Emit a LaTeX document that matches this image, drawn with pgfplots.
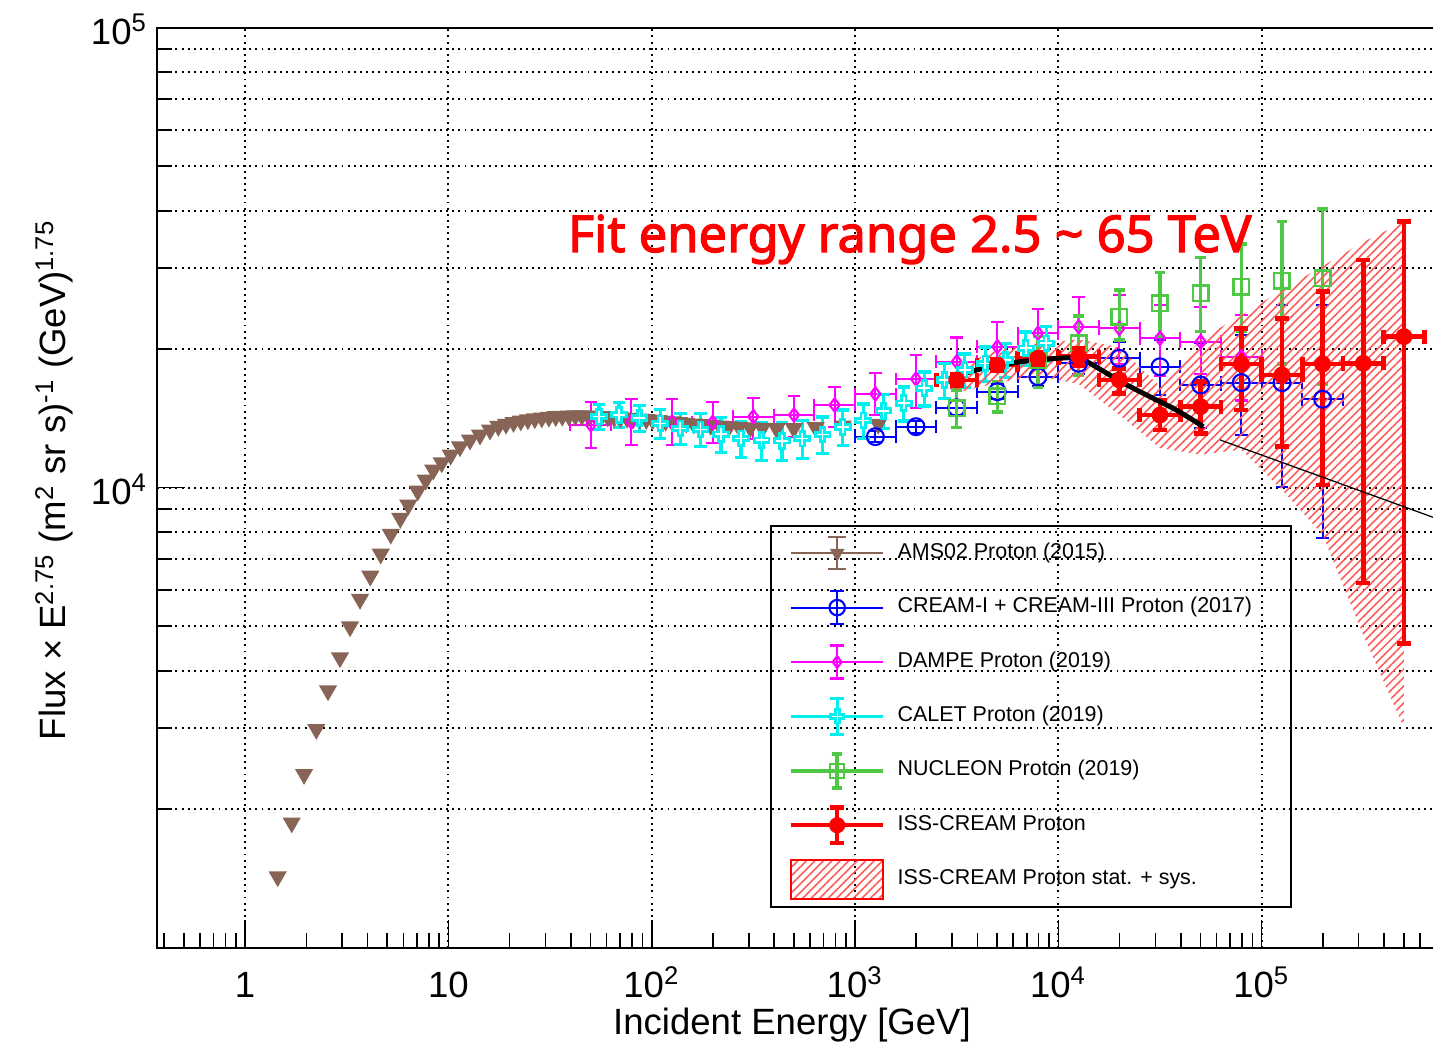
\documentclass[border=0pt]{standalone}
\usepackage{fontspec}
\setmainfont{Liberation Sans}
\newfontfamily\titlefont{Noto Sans}[AutoFakeBold=2.5]
\usepackage{pgfplots}
\pgfplotsset{compat=1.18}
\usetikzlibrary{patterns.meta}

\definecolor{amsbrown}{RGB}{135,100,85}
\definecolor{nucgreen}{RGB}{80,200,70}
\definecolor{calcyan}{RGB}{0,240,240}
\definecolor{bandred}{RGB}{255,90,90}
\definecolor{dmag}{RGB}{255,0,255}
\definecolor{dblue}{RGB}{0,0,255}
\definecolor{dred}{RGB}{255,0,0}

\pgfdeclareplotmark{ocross}{%
 \pgfpathmoveto{\pgfqpoint{-0.3\pgfplotmarksize}{\pgfplotmarksize}}%
 \pgfpathlineto{\pgfqpoint{0.3\pgfplotmarksize}{\pgfplotmarksize}}%
 \pgfpathlineto{\pgfqpoint{0.3\pgfplotmarksize}{0.3\pgfplotmarksize}}%
 \pgfpathlineto{\pgfqpoint{\pgfplotmarksize}{0.3\pgfplotmarksize}}%
 \pgfpathlineto{\pgfqpoint{\pgfplotmarksize}{-0.3\pgfplotmarksize}}%
 \pgfpathlineto{\pgfqpoint{0.3\pgfplotmarksize}{-0.3\pgfplotmarksize}}%
 \pgfpathlineto{\pgfqpoint{0.3\pgfplotmarksize}{-\pgfplotmarksize}}%
 \pgfpathlineto{\pgfqpoint{-0.3\pgfplotmarksize}{-\pgfplotmarksize}}%
 \pgfpathlineto{\pgfqpoint{-0.3\pgfplotmarksize}{-0.3\pgfplotmarksize}}%
 \pgfpathlineto{\pgfqpoint{-\pgfplotmarksize}{-0.3\pgfplotmarksize}}%
 \pgfpathlineto{\pgfqpoint{-\pgfplotmarksize}{0.3\pgfplotmarksize}}%
 \pgfpathlineto{\pgfqpoint{-0.3\pgfplotmarksize}{0.3\pgfplotmarksize}}%
 \pgfpathclose\pgfusepathqfillstroke}

\begin{document}
\begin{tikzpicture}
\begin{axis}[
 at={(0,0)}, anchor=south west, scale only axis,
 width=12.8cm, height=9.2cm,
 xmode=log, ymode=log,
 xmin=0.3686, xmax=7.29e5, ymin=1000, ymax=1e5,
 xtick={1,10,100,1000,10000,100000},
 xticklabels={1,10,10\textsuperscript{2},10\textsuperscript{3},10\textsuperscript{4},10\textsuperscript{5}},
 minor xtick={0.4,0.5,0.6,0.7,0.8,0.9,2,3,4,5,6,7,8,9,20,30,40,50,60,70,80,90,200,300,400,500,600,700,800,900,2000,3000,4000,5000,6000,7000,8000,9000,20000,30000,40000,50000,60000,70000,80000,90000,200000,300000,400000,500000,600000,700000},
 ytick={10000,100000},
 yticklabels={10\textsuperscript{4},10\textsuperscript{5}},
 minor ytick={2000,3000,4000,5000,6000,7000,8000,9000,20000,30000,40000,50000,60000,70000,80000,90000},
 tick pos=left, tick align=inside,
 major tick length=0.28cm, minor tick length=0.15cm,
 xmajorgrids, ymajorgrids, yminorgrids,
 grid style={black, line width=0.55pt, dash pattern=on 0.55pt off 1.2pt},
 axis line style={line width=0.6pt},
 every tick/.style={black, line width=0.45pt},
 tick label style={font=\fontsize{10.4}{12}\selectfont},
 xticklabel style={anchor=base, yshift=-0.50cm},
 yticklabel style={anchor=base east, xshift=0.03cm, yshift=-0.17cm},
 xlabel={Incident Energy [GeV]},
 ylabel={Flux × E\textsuperscript{2.75} (m\textsuperscript{2} sr s)\textsuperscript{-1} (GeV)\textsuperscript{1.75}},
 every axis x label/.style={at={(axis description cs:0.4961,0)}, anchor=base, yshift=-0.873cm, font=\fontsize{10.4}{12}\selectfont},
 every axis y label/.style={at={(axis description cs:-0.0711,0.5084)}, anchor=base, rotate=90, font=\fontsize{10.4}{12}\selectfont},
 legend style={at={(axis description cs:0.4787,0.4595)}, anchor=north west, draw=black, line width=0.6pt, fill=none,
   inner xsep=0.183cm, inner ysep=0pt, row sep=0pt,
   font=\fontsize{6.1}{7}\selectfont,
   /tikz/every odd column/.append style={column sep=0.124cm},
   nodes={inner sep=0pt}},
 legend cell align=left,
]

% AMS02 Proton (2015)
\addplot[only marks, mark=triangle*, mark size=2.6pt, mark options={rotate=180, draw=amsbrown, fill=amsbrown}, forget plot]
coordinates {
(1.446,1427) (1.695,1869) (1.949,2382) (2.240,2984) (2.557,3621) (2.929,4270) (3.281,4987) (3.674,5721)
(4.128,6427) (4.645,7177) (5.203,7930) (5.800,8581) (6.351,9171) (7.063,9836) (7.733,10392) (8.425,10926)
(9.27,11334) (10.26,11778) (11.40,12279) (12.77,12697) (14.30,13020) (16.02,13350) (17.6,13600) (19.2,13750)
(20.9,13870) (22.7,13970) (24.6,14060) (26.6,14130) (28.8,14190) (31.2,14240) (33.7,14280) (36.3,14310)
(39.1,14330) (42.1,14340) (45.3,14340) (48.8,14330) (52.5,14310) (56.5,14290) (60.8,14260) (65.4,14230)
(70.3,14200) (75.6,14170) (81.3,14140) (87.4,14110) (94,14080) (101,14040) (108,14000) (117,13960)
(126,13920) (136,13870) (148,13820) (161,13770) (177,13720) (195,13670) (216,13620) (240,13580)
(269,13540) (305,13500) (350,13470) (411,13450) (500,13460) (640,13520) (870,13620) (1300,13750)
};

% CREAM-I + CREAM-III (2017)
\addplot[dblue, only marks, mark=o, mark size=2.4pt, mark options={line width=0.6pt, fill=white}, forget plot,
 error bars/.cd, x dir=both, x explicit, y dir=both, y explicit,
 error bar style={line width=0.6pt},
 error mark options={rotate=90, mark size=1.8pt, line width=0.6pt}]
coordinates {
(1259,12910) += (326,350) -= (259,350)
(1995,13570) += (517,400) -= (410,400)
(3162,14920) += (819,500) -= (650,500)
(5012,16170) += (1298,600) -= (1031,600)
(7943,17430) += (2057,800) -= (1633,800)
(12589,18640) += (3260,1000) -= (2589,1000)
(19953,19110) += (5167,1670) -= (4104,1410)
(31623,18320) += (8187,2630) -= (6503,2420)
(50119,16720) += (12981,3870) -= (10310,3260)
(79433,16920) += (20567,4560) -= (16333,3900)
(125893,16920) += (32600,8020) -= (25900,6900)
(199526,15570) += (51700,9370) -= (41000,7810)
};

% DAMPE (2019)
\addplot[dmag, only marks, mark=diamond, mark size=1.9pt, mark options={line width=0.6pt, fill=white}, forget plot,
 error bars/.cd, x dir=both, x explicit, y dir=both, y explicit,
 error bar style={line width=0.6pt},
 error mark options={rotate=90, mark size=1.8pt, line width=0.6pt}]
coordinates {
(50.2,13700) += (12.9,1680) -= (10.4,1520)
(79.4,13890) += (20.6,1690) -= (16.3,1510)
(125.9,13890) += (32.6,1690) -= (25.9,1510)
(199.5,13870) += (51.7,1510) -= (41,1380)
(316,14270) += (82,1400) -= (65,1500)
(501,14390) += (130,1430) -= (103,1480)
(794,15130) += (206,1400) -= (163,1560)
(1259,15990) += (326,1740) -= (259,1600)
(1995,17230) += (517,2190) -= (410,2300)
(3162,18780) += (819,2430) -= (650,2330)
(5012,20250) += (1298,2700) -= (1031,2380)
(7943,21670) += (2057,2750) -= (1633,2890)
(12589,22390) += (3260,3640) -= (2589,3300)
(19953,22200) += (5167,4000) -= (4104,3600)
(31623,21130) += (8187,3800) -= (6503,3600)
(50119,20770) += (12981,3900) -= (10310,3100)
(79433,19270) += (20567,4470) -= (16333,3800)
};

% CALET (2019)
\addplot[calcyan, only marks, mark=ocross, mark size=2.1pt, mark options={line width=0.8pt, fill=white}, forget plot,
 error bars/.cd, y dir=both, y explicit,
 error bar style={line width=0.9pt},
 error mark options={rotate=90, mark size=1.8pt, line width=0.9pt}]
coordinates {
(55,14270) +- (0,900) (69,14400) +- (0,900) (87,14170) +- (0,950) (110,13800) +- (0,1000)
(138,13450) +- (0,1050) (174,13390) +- (0,1100) (219,13070) +- (0,1150) (275,12800) +- (0,1150)
(347,12680) +- (0,1200) (437,12650) +- (0,1200) (550,12780) +- (0,1200) (692,13050) +- (0,1200)
(871,13550) +- (0,1200) (1097,14000) +- (0,1200) (1380,14700) +- (0,1250) (1738,15260) +- (0,1300)
(2188,16450) +- (0,1400) (2754,17150) +- (0,1500) (3467,18030) +- (0,1500) (4365,18630) +- (0,1600)
(5495,18960) +- (0,1600) (6918,20100) +- (0,1700) (8710,20600) +- (0,1800)
};

% NUCLEON (2019)
\addplot[nucgreen, only marks, mark=square, mark size=2.2pt, mark options={line width=0.7pt, fill=white}, forget plot,
 error bars/.cd, y dir=both, y explicit,
 error bar style={line width=1pt},
 error mark options={rotate=90, mark size=1.5pt, line width=1pt}]
coordinates {
(3162,14900) +- (0,1400)
(5012,15800) +- (0,1200)
(7943,18900) +- (0,2400)
(12589,20600) +- (0,3000)
(19953,23540) += (0,3360) -= (0,2610)
(31623,25180) += (0,4150) -= (0,3890)
(50119,26460) += (0,5200) -= (0,4620)
(79433,27350) += (0,6560) -= (0,5500)
(125893,28180) += (0,9720) -= (0,9590)
(199526,28520) += (0,11780) -= (0,11720)
};

% ISS-CREAM stat. + sys. band
\addplot[draw=none, pattern={Lines[angle=45,distance=1.7pt,line width=0.45pt]}, pattern color=bandred, forget plot]
coordinates {
(3162,18300) (5012,19900) (7943,20600) (12589,21000) (19953,20200) (31623,16600) (50119,21000)
(79433,23700) (125893,26900) (199526,30300) (316228,34200) (501187,37800)
(501187,3010) (316228,4780) (199526,7900) (125893,9900) (79433,12100) (50119,11800)
(31623,12200) (19953,14400) (12589,16800) (7943,17500) (5012,16900) (3162,16100)
};

% ISS-CREAM Proton
\addplot[dred, only marks, mark=*, mark size=2.2pt, forget plot,
 error bars/.cd, x dir=both, x explicit, y dir=both, y explicit,
 error bar style={line width=1.3pt},
 error mark options={rotate=90, mark size=2pt, line width=1.3pt}]
coordinates {
(3162,17150) += (819,450) -= (650,450)
(5012,18480) += (1298,500) -= (1031,500)
(7943,19110) += (2057,600) -= (1633,600)
(12589,19270) += (3260,800) -= (2589,870)
(19953,17150) += (5167,1020) -= (4104,1120)
(31623,14390) += (8187,1120) -= (6503,1040)
(50119,15000) += (12981,2000) -= (10310,1870)
(79433,18570) += (20567,3630) -= (16333,3820)
(125893,17580) += (32600,5760) -= (25900,5300)
(199526,18570) += (51700,8130) -= (41000,8430)
(316228,18640) += (81900,12620) -= (65000,12430)
(501187,21300) += (129800,16600) -= (103100,16710)
};

% fit
\addplot[black, line width=1.4pt, forget plot] coordinates {
(3104,17490) (4277,18180) (6480,18790) (9820,19110) (12540,19210) (14320,18640) (17300,17740)
(20880,16870) (25220,16170) (30480,15510) (36780,14880) (44440,14160) (51660,13570)
};
\addplot[black, line width=0.35pt, forget plot] coordinates {(62440,12700) (729000,8560)};

\node[anchor=base, text=dred, font=\titlefont\bfseries\fontsize{14.4}{16}\selectfont] at (axis description cs:0.588,0.7562) {Fit energy range 2.5 \textasciitilde{} 65 TeV};

% legend
\addlegendimage{legend image code/.code={
 \path[draw=none] (0cm,-0.272cm) rectangle (0.916cm,0.272cm);
 \draw[amsbrown, line width=0.6pt] (0cm,0cm) -- (0.916cm,0cm) (0.458cm,-0.16cm) -- (0.458cm,0.16cm) (0.37cm,0.16cm) -- (0.546cm,0.16cm) (0.37cm,-0.16cm) -- (0.546cm,-0.16cm);
 \draw[amsbrown] plot[mark=triangle*, mark size=1.8pt, mark options={rotate=180, draw=amsbrown, fill=amsbrown}] coordinates {(0.458cm,0cm)};
}}
\addlegendentry{\makebox[3.75cm][l]{AMS02 Proton (2015)}}
\addlegendimage{legend image code/.code={
 \path[draw=none] (0cm,-0.272cm) rectangle (0.916cm,0.272cm);
 \draw[dblue, line width=0.6pt] (0cm,0cm) -- (0.916cm,0cm) (0.458cm,-0.165cm) -- (0.458cm,0.165cm) (0.39cm,0.165cm) -- (0.526cm,0.165cm) (0.39cm,-0.165cm) -- (0.526cm,-0.165cm);
 \draw[dblue] plot[mark=o, mark size=2.2pt, mark options={line width=0.6pt, fill=white}] coordinates {(0.458cm,0cm)};
}}
\addlegendentry{\makebox[3.75cm][l]{CREAM-I + CREAM-III Proton (2017)}}
\addlegendimage{legend image code/.code={
 \path[draw=none] (0cm,-0.272cm) rectangle (0.916cm,0.272cm);
 \draw[dmag, line width=0.6pt] (0cm,0cm) -- (0.916cm,0cm) (0.458cm,-0.165cm) -- (0.458cm,0.165cm) (0.39cm,0.165cm) -- (0.526cm,0.165cm) (0.39cm,-0.165cm) -- (0.526cm,-0.165cm);
 \draw[dmag] plot[mark=diamond, mark size=1.7pt, mark options={line width=0.6pt, fill=white}] coordinates {(0.458cm,0cm)};
}}
\addlegendentry{\makebox[3.75cm][l]{DAMPE Proton (2019)}}
\addlegendimage{legend image code/.code={
 \path[draw=none] (0cm,-0.272cm) rectangle (0.916cm,0.272cm);
 \draw[calcyan, line width=0.9pt] (0cm,0cm) -- (0.916cm,0cm) (0.458cm,-0.18cm) -- (0.458cm,0.18cm) (0.39cm,0.18cm) -- (0.526cm,0.18cm) (0.39cm,-0.18cm) -- (0.526cm,-0.18cm);
 \draw[calcyan] plot[mark=ocross, mark size=1.9pt, mark options={line width=0.8pt, fill=white}] coordinates {(0.458cm,0cm)};
}}
\addlegendentry{\makebox[3.75cm][l]{CALET Proton (2019)}}
\addlegendimage{legend image code/.code={
 \path[draw=none] (0cm,-0.272cm) rectangle (0.916cm,0.272cm);
 \draw[nucgreen, line width=1pt] (0cm,0cm) -- (0.916cm,0cm) (0.458cm,-0.17cm) -- (0.458cm,0.17cm) (0.405cm,0.17cm) -- (0.511cm,0.17cm) (0.405cm,-0.17cm) -- (0.511cm,-0.17cm);
 \draw[nucgreen] plot[mark=square, mark size=2pt, mark options={line width=0.7pt, fill=white}] coordinates {(0.458cm,0cm)};
}}
\addlegendentry{\makebox[3.75cm][l]{NUCLEON Proton (2019)}}
\addlegendimage{legend image code/.code={
 \path[draw=none] (0cm,-0.272cm) rectangle (0.916cm,0.272cm);
 \draw[dred, line width=1.3pt] (0cm,0cm) -- (0.916cm,0cm) (0.458cm,-0.177cm) -- (0.458cm,0.177cm) (0.388cm,0.177cm) -- (0.528cm,0.177cm) (0.388cm,-0.177cm) -- (0.528cm,-0.177cm);
 \draw[dred] plot[mark=*, mark size=2pt] coordinates {(0.458cm,0cm)};
}}
\addlegendentry{\makebox[3.75cm][l]{ISS-CREAM Proton}}
\addlegendimage{legend image code/.code={
 \path[draw=none] (0cm,-0.272cm) rectangle (0.916cm,0.272cm);
 \draw[dred, line width=0.6pt, pattern={Lines[angle=45,distance=1.7pt,line width=0.45pt]}, pattern color=bandred] (0cm,-0.193cm) rectangle (0.916cm,0.193cm);
}}
\addlegendentry{\makebox[3.75cm][l]{ISS-CREAM Proton stat. + sys.}}
\end{axis}
\pgfresetboundingbox
\useasboundingbox (-1.57cm,-0.943cm) rectangle (12.76cm,9.477cm);
\end{tikzpicture}
\end{document}
